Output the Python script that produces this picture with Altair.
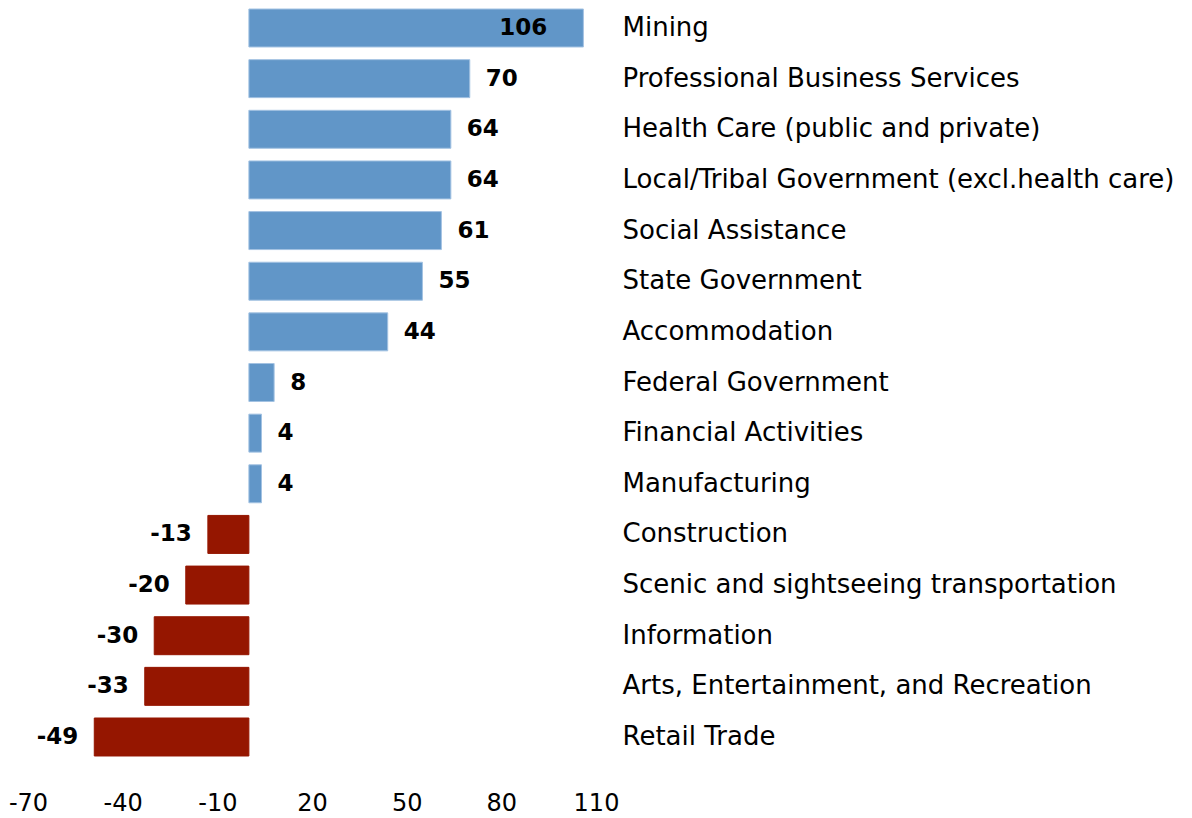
import altair as alt
import pandas as pd

categories = [
    "Mining",
    "Professional Business Services",
    "Health Care (public and private)",
    "Local/Tribal Government (excl.health care)",
    "Social Assistance",
    "State Government",
    "Accommodation",
    "Federal Government",
    "Financial Activities",
    "Manufacturing",
    "Construction",
    "Scenic and sightseeing transportation",
    "Information",
    "Arts, Entertainment, and Recreation",
    "Retail Trade",
]
values = [106, 70, 64, 64, 61, 55, 44, 8, 4, 4, -13, -20, -30, -33, -49]
x_ticks = [-70, -40, -10, 20, 50, 80, 110]

df = pd.DataFrame({"category": categories, "value": values})
df["label"] = [str(v) for v in values]

FONT = "DejaVu Sans"
BLUE = "#6196C8"
BLUE_EDGE = "#A3C2E2"
RED = "#951600"

base = alt.Chart(df).encode(
    y=alt.Y(
        "category:N",
        sort=categories,
        title=None,
        scale=alt.Scale(paddingInner=0.25, paddingOuter=0.02),
        axis=alt.Axis(
            orient="right",
            grid=False,
            domain=False,
            ticks=False,
            labelFont=FONT,
            labelFontSize=26,
            labelColor="black",
            labelPadding=26,
            labelLimit=0,
        ),
    ),
    x=alt.X(
        "value:Q",
        title=None,
        scale=alt.Scale(domain=[-70, 110], nice=False, zero=False),
        axis=alt.Axis(
            values=x_ticks,
            grid=False,
            domain=False,
            ticks=False,
            labelFont=FONT,
            labelFontSize=24,
            labelColor="black",
            labelPadding=34,
            labelFlush=False,
            labelOverlap=False,
            labelExpr="toString(datum.value)",
        ),
    ),
)

bars = base.mark_bar(strokeWidth=1).encode(
    color=alt.condition(alt.datum.value >= 0, alt.value(BLUE), alt.value(RED)),
    stroke=alt.condition(alt.datum.value >= 0, alt.value(BLUE_EDGE), alt.value(RED)),
)

txt_props = dict(font=FONT, fontSize=23, fontWeight="bold", color="black", baseline="middle")

pos_out = base.transform_filter("datum.value >= 0 && datum.value < 100").mark_text(
    align="left", dx=16, **txt_props
).encode(text="label:N")

pos_in = base.transform_filter("datum.value >= 100").mark_text(
    align="right", dx=-36, **txt_props
).encode(text="label:N")

neg = base.transform_filter("datum.value < 0").mark_text(
    align="right", dx=-16, **txt_props
).encode(text="label:N")

chart = (
    alt.layer(bars, pos_out, pos_in, neg)
    .properties(
        width=568,
        height=749,
        autosize=alt.AutoSizeParams(type="none"),
        padding={"left": 20, "top": 0, "right": 588, "bottom": 58},
    )
    .configure_view(stroke=None)
)

chart.save("out.html", embed_options={"renderer": "svg", "actions": False})
